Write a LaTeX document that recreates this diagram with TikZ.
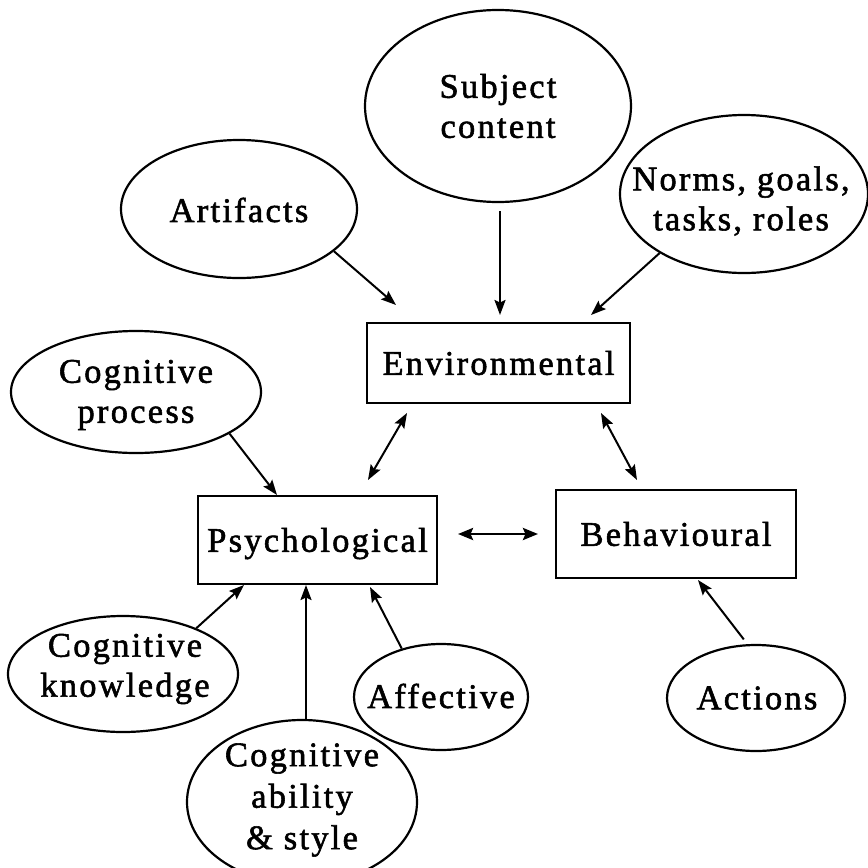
\documentclass[tikz,border=0pt]{standalone}
\usepackage{fontspec}
\setmainfont{Liberation Serif}[LetterSpace=6.5,FakeBold=1.6]
\usetikzlibrary{arrows.meta,shapes.geometric}
\begin{document}
\begin{tikzpicture}[x=1pt,y=-1pt,
  oval/.style={draw, ellipse, line width=2.2pt, inner sep=0pt},
  factor/.style={draw, rectangle, line width=2.5pt, inner sep=0pt,
    font=\fontsize{34.5}{40}\selectfont, text height=23.6pt, text depth=0pt},
  lbl/.style={align=center, inner sep=0pt, font=\fontsize{34.5}{40}\selectfont},
  arr/.style={line width=2pt, -{Stealth[length=15pt,width=11pt,inset=2.5pt]}},
  darr/.style={line width=2pt,
    {Stealth[length=15pt,width=11pt,inset=2.5pt]}-{Stealth[length=15pt,width=11pt,inset=2.5pt]}},
  harr/.style={line width=2.8pt,
    {Stealth[length=15pt,width=12pt,inset=2.5pt]}-{Stealth[length=15pt,width=12pt,inset=2.5pt]}},
]
\useasboundingbox (0,0) rectangle (868,868);

% the three factors
\node[factor, minimum width=263pt, minimum height=80pt] (env) at (498.5,363) {Environmental};
\node[factor, minimum width=239pt, minimum height=88pt] (psy) at (317.5,540) {Psychological};
\node[factor, minimum width=240pt, minimum height=88pt] (beh) at (676,534) {Behavioural};

% influencing elements
\node[oval, minimum width=266pt, minimum height=192pt] (subj) at (498,106) {};
\node[lbl] (subjT) at (498,106) {Subject\\content};

\node[oval, minimum width=236pt, minimum height=138pt] (art) at (239,209) {};
\node[lbl] (artT) at (239,210) {Artifacts};

\node[oval, minimum width=248pt, minimum height=158pt] (norms) at (744,194) {};
\node[lbl] (normsT) at (741,201) {Norms, goals,\\tasks, roles};

\node[oval, minimum width=250pt, minimum height=122pt] (cogp) at (136,392) {};
\node[lbl] (cogpT) at (136,395) {Cognitive\\process};

\node[oval, minimum width=230pt, minimum height=116pt] (cogk) at (123,674) {};
\node[lbl] (cogkT) at (125,669) {Cognitive\\knowledge};

\node[oval, minimum width=230pt, minimum height=164pt] (cogab) at (302,802) {};
\node[lbl, font=\fontsize{34.5}{41.5}\selectfont] (cogabT) at (302,800) {Cognitive\\ability\\\& style};

\node[oval, minimum width=174pt, minimum height=106pt] (aff) at (441,697) {};
\node[lbl] (affT) at (441,696) {Affective};

\node[oval, minimum width=178pt, minimum height=106pt] (act) at (756,698) {};
\node[lbl] (actT) at (757,698) {Actions};

% arrow end points beside the boxes
\coordinate (tA) at (396,305);
\coordinate (tB) at (500,315);
\coordinate (tC) at (591,315);
\coordinate (tD) at (277,495);
\coordinate (e1) at (407,413);
\coordinate (e2) at (368,480);
\coordinate (e3) at (601,413);
\coordinate (e4) at (637,480);
\coordinate (h1) at (458,534);
\coordinate (h2) at (538,534);
\coordinate (tE) at (244,585);
\coordinate (tF) at (306,585);
\coordinate (tG) at (370,587);
\coordinate (tH) at (698,580);

% connectors
\draw[arr] (art.-24) -- (tA);
\draw[arr, shorten <=8pt] (subj.south -| tB) -- (tB);
\draw[arr] (norms.215.7) -- (tC);
\draw[arr] (cogp.-24.6) -- (tD);
\draw[darr] (e1) -- (e2);
\draw[darr] (e3) -- (e4);
\draw[harr] (h1) -- (h2);
\draw[arr] (cogk.32.6) -- (tE);
\draw[arr] (cogab.north -| tF) -- (tF);
\draw[arr] (aff.129.4) -- (tG);
\draw[arr, shorten <=6pt] (act.99.5) -- (tH);
\end{tikzpicture}
\end{document}
